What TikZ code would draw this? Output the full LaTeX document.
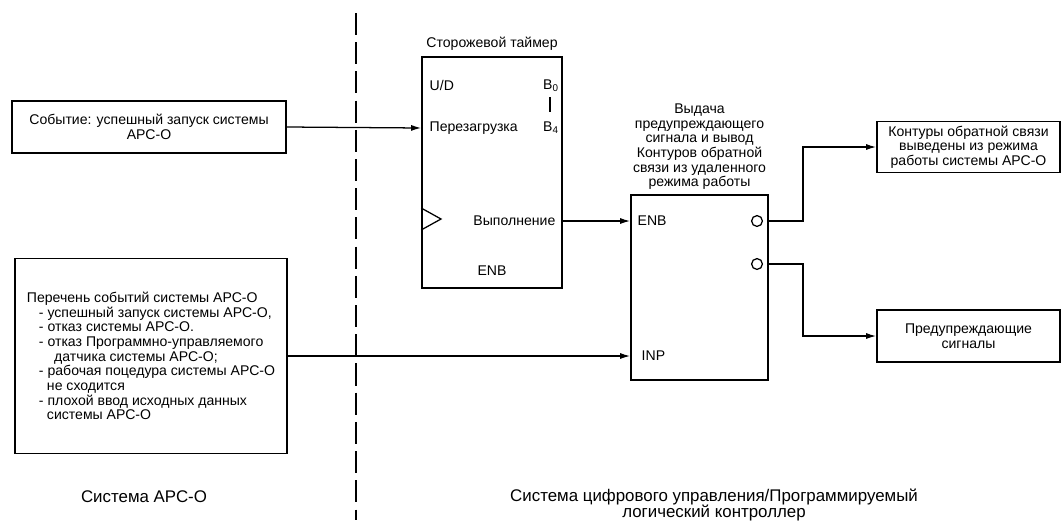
\documentclass[tikz,border=0pt]{standalone}
\usepackage{fontspec}
\setmainfont{Liberation Sans}
\usetikzlibrary{positioning, arrows.meta, calc}

\begin{document}
\begin{tikzpicture}[
    x=0.025cm, y=-0.025cm,
    font=\fontsize{10}{10.4}\selectfont,
    >={Latex[length=2.5mm, width=1.5mm]},
    % --- Styles ---
    box/.style={draw=black, line width=1.2pt, align=center, inner sep=2pt},
    wire/.style={->, line width=0.9pt},
    divider/.style={line width=1.1pt, dash pattern=on 0.55cm off 0.18cm},
    label_text/.style={align=center, inner sep=1pt},
    big_text/.style={align=center, inner sep=1pt, font=\fontsize{12}{11.4}\selectfont},
    pin/.style={inner sep=1pt},
    neg/.style={circle, draw=black, line width=0.9pt, minimum size=0.27cm, inner sep=0pt}
]

    \useasboundingbox (0,0) rectangle (1063,520);

    % ==========================
    % 1. DIVIDER
    % ==========================
    \draw[divider] (356,13) -- (356,520);

    % ==========================
    % 2. APC-O SIDE
    % ==========================
    \node[box, minimum width=6.85cm, minimum height=1.3cm] (event) at (149,127)
        {Событие: успешный запуск системы\\АРС-О};

    \node[box, align=left, minimum width=6.8cm, minimum height=4.875cm] (list) at (151,356)
        {Перечень событий системы АРС-О\\
         \hspace*{0.3cm}- успешный запуск системы АРС-О,\\
         \hspace*{0.3cm}- отказ системы АРС-О.\\
         \hspace*{0.3cm}- отказ Программно-управляемого\\
         \hspace*{0.68cm}датчика системы АРС-О;\\
         \hspace*{0.3cm}- рабочая поцедура системы АРС-О\\
         \hspace*{0.5cm}не сходится\\
         \hspace*{0.3cm}- плохой ввод исходных данных\\
         \hspace*{0.5cm}системы АРС-О};

    \node[big_text] (left_lbl) at (144,497) {Система АРС-О};

    % ==========================
    % 3. WATCHDOG TIMER
    % ==========================
    \node[box, minimum width=3.5cm, minimum height=5.775cm] (timer) at (492,172.5) {};
    \node[label_text, above=3pt of timer] (timer_lbl) {Сторожевой таймер};

    \node[pin, anchor=west] (ud) at (428,85) {U/D};
    \node[pin, anchor=west] (reset) at (428,128) {Перезагрузка};
    \node[pin] (b0) at (551,86) {B\textsubscript{0}};
    \node[pin] (b4) at (551,128) {B\textsubscript{4}};
    \draw[line width=1pt] (550,97) -- (550,112);
    \node[pin, anchor=east] (exec) at (557,221) {Выполнение};
    \node[pin] (t_enb) at (492,271) {ENB};

    % clock input
    \draw[line width=0.9pt] (timer.west |- 0,208) -- (441,219) -- (timer.west |- 0,230);

    % ==========================
    % 4. CONTROL BLOCK
    % ==========================
    \node[box, minimum width=3.425cm, minimum height=4.625cm] (ctrl) at (699.5,287.5) {};
    \node[label_text, above=2pt of ctrl] (ctrl_lbl)
        {Выдача\\предупреждающего\\сигнала и вывод\\Контуров обратной\\связи из удаленного\\режима работы};

    \node[pin, anchor=west] (enb) at (636,221) {ENB};
    \node[pin, anchor=west] (inp) at (640,356) {INP};
    \node[neg] (q1) at (757,221) {};
    \node[neg] (q2) at (757,264) {};

    % ==========================
    % 5. OUTPUTS
    % ==========================
    \node[box, minimum width=4.575cm, minimum height=1.275cm] (fb) at (968.5,147)
        {Контуры обратной связи\\выведены из режима\\работы системы АРС-О};
    \node[box, minimum width=4.575cm, minimum height=1.3cm] (warn) at (968.5,336)
        {Предупреждающие\\сигналы};

    \node[big_text] (right_lbl) at (714,505)
        {Система цифрового управления/Программируемый\\логический контроллер};

    % ==========================
    % 6. CONNECTORS
    % ==========================
    \coordinate (split) at (803,0);

    \draw[wire] (event.east) -- (timer.west |- reset);
    \draw[wire] (timer.east |- exec) -- (ctrl.west |- enb);
    \draw[wire] (list.east |- inp) -- (ctrl.west |- inp);
    \draw[wire] (ctrl.east |- q1) -- (split |- q1) |- (fb.west);
    \draw[wire] (ctrl.east |- q2) -- (split |- q2) |- (warn.west);

\end{tikzpicture}
\end{document}
